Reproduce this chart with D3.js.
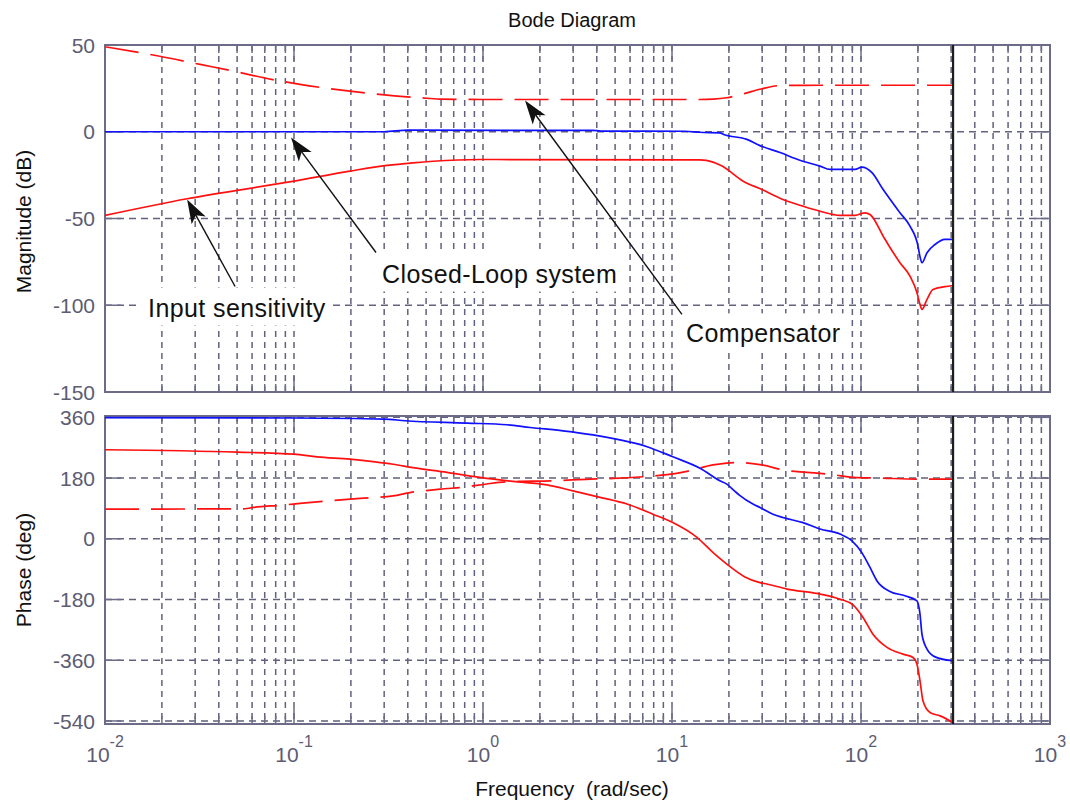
<!DOCTYPE html>
<html>
<head>
<meta charset="utf-8">
<script src="https://cdn.jsdelivr.net/npm/d3@7"></script>
<style>
  body { margin: 0; background: #ffffff; }
  svg { display: block; }
  text { font-family: "Liberation Sans", Arial, sans-serif; }
</style>
</head>
<body>
<svg id="chart" width="1070" height="805"></svg>
<script>
// ---- axis ticks ----
const freqDecades = [1e-2, 1e-1, 1e0, 1e1, 1e2, 1e3];
const freqExponents = ["-2", "-1", "0", "1", "2", "3"];
const magTicks = [50, 0, -50, -100, -150];
const phaseTicks = [360, 180, 0, -180, -360, -540];
const nyquistFreq = 307;

// ---- magnitude (dB) ----
const compMagW  = [0.01, 0.0195, 0.0319, 0.0476, 0.072, 0.1076, 0.1977, 0.3105, 0.4645, 0.59, 1.0, 5.0, 14, 16.5, 19.5, 24, 29.9, 38.2, 60, 307];
const compMagDb = [49, 43.5, 38.8, 35, 30.7, 27.3, 23.4, 21.1, 19.6, 18.8, 18.6, 18.6, 18.6, 18.8, 19.6, 22, 24.8, 26.7, 26.8, 26.8];

const clMagW  = [0.01, 0.3, 0.4, 3.8, 4.2, 11.7, 14, 17.9, 18.8, 24.9, 29.2, 37.3, 47.5, 60.7, 68.5, 93, 101, 114.3, 130.7, 160.7, 181.6, 200.3, 205.2, 210.2, 223.5, 246.4, 278, 307];
const clMagDb = [0, 0, 0.9, 0.8, 0.4, 0.3, -0.3, -0.6, -1.6, -4.4, -8, -12, -16.4, -19.8, -21.7, -21.7, -20.4, -23.6, -33.2, -46.7, -54.4, -65.9, -72, -75.5, -69.7, -65, -62, -62];

const sensMagW  = [0.01, 0.0272, 0.1, 0.1977, 0.3105, 0.4266, 0.5436, 0.964, 14, 16.5, 18.4, 23.8, 29.9, 38.6, 49.3, 60.7, 77.4, 93, 105, 111.6, 133.9, 160.7, 181.6, 197.8, 205.2, 210.2, 223.5, 240.4, 278, 307];
const sensMagDb = [-48.2, -38.6, -28.5, -22.7, -19.4, -17.9, -17, -16, -16.2, -17.5, -19.8, -28.5, -33.3, -39, -42.9, -45.8, -48.2, -48.2, -46.7, -47.7, -62, -75.5, -83.2, -92.8, -99.5, -102.4, -96.6, -90.9, -89.3, -88.6];

// ---- phase (deg) ----
const compPhW   = [0.01, 0.0551, 0.0607, 0.0875, 0.1076, 0.1549, 0.2236, 0.334, 0.411, 0.5916, 0.8226, 1.089, 1.442, 2.346, 3.68, 4.88, 7.03, 9.41, 12.0, 16.5, 22.1, 29.2, 40.6, 51.8, 71.1, 90.7, 126, 205, 307];
const compPhDeg = [88, 89, 93, 100, 105, 113, 120, 127, 137, 147, 154, 164, 170, 172, 177, 179, 184, 190, 200, 219, 226, 220, 202, 197, 190, 182, 180, 177, 177];

const clPhW   = [0.01, 0.1, 0.3, 0.3866, 0.8226, 1.34, 1.774, 2.65, 3.82, 5.31, 7.38, 10.1, 14.07, 17.9, 19.5, 21.4, 22.9, 26.8, 29.2, 34.2, 38.6, 49.3, 60.7, 77.4, 89.6, 101, 111.6, 121.5, 142.3, 170.9, 197.8, 205.2, 210.2, 223.5, 246.4, 307];
const clPhDeg = [359, 358, 355, 350, 343, 338, 330, 320, 308, 293, 273, 243, 209, 172, 162, 142, 128, 103, 93, 73, 63, 48, 29, 14, -6, -41, -85, -125, -156, -169, -184, -223, -283, -327, -350, -362];

const sensPhW   = [0.01, 0.05, 0.1, 0.1324, 0.1977, 0.2685, 0.334, 0.4266, 0.6449, 0.964, 1.442, 2.183, 2.99, 4.16, 5.78, 7.93, 10.1, 13.55, 16.5, 19.5, 24.3, 29.2, 31.8, 40.6, 58.5, 77.4, 90.7, 102.5, 115.7, 137.3, 166.7, 188.5, 197.8, 205.2, 212.9, 231.8, 261.9, 307];
const sensPhDeg = [264, 257, 251, 243, 236, 228, 221, 211, 197, 182, 170, 160, 142, 123, 103, 73, 48, 4, -41, -75, -113, -130, -134, -149, -162, -179, -196, -233, -283, -322, -342, -352, -372, -421, -481, -515, -525, -545];

// ---- annotations (placed in frequency / dB coordinates of the magnitude plot) ----
const noteLabels = ["Compensator", "Closed-Loop system", "Input sensitivity"];
const noteTipW   = [1.668, 0.0964, 0.0272];
const noteTipDb  = [18.0, -3.3, -39.0];
const noteTailW  = [11.29, 0.2716, 0.0488];
const noteTailDb = [-105.3, -69.6, -89.2];
const noteTextW  = [11.86, 0.2924, 0.0169];
const noteTextDb = [-121.4, -86.9, -106.5];

// ---- layout ----
const svg = d3.select("#chart");
const left = 105, right = 1050;
const magTop = 45, magBottom = 392;
const phTop = 416, phBottom = 724;
const axisColor = "#6c6c88";
const gridColor = "#62627e";
const tickTextColor = "#5c5c72";
const red = "#ff1010", blue = "#1010ff";

const x = d3.scaleLog().domain([1e-2, 1e3]).range([left, right]);
const yMag = d3.scaleLinear().domain([-150, 50]).range([magBottom, magTop]);
const yPh = d3.scaleLinear().domain([-549, 364]).range([phBottom, phTop]);

// all grid frequencies: 1..9 x 10^k
const gridFreqs = [];
for (let k = -2; k <= 2; k++) for (let m = 1; m <= 9; m++) gridFreqs.push(m * Math.pow(10, k));
gridFreqs.push(1000);

function drawPanel(y, ticks, top, bottom, clipId) {
  const g = svg.append("g");
  svg.append("clipPath").attr("id", clipId)
    .append("rect").attr("x", left).attr("y", top).attr("width", right - left).attr("height", bottom - top);

  // vertical dashed grid
  g.selectAll("line.vg").data(gridFreqs).join("line")
    .attr("x1", d => x(d)).attr("x2", d => x(d))
    .attr("y1", top).attr("y2", bottom)
    .attr("stroke", gridColor).attr("stroke-width", 1.5)
    .attr("stroke-dasharray", "6,5");
  // horizontal dashed grid
  g.selectAll("line.hg").data(ticks).join("line")
    .attr("x1", left).attr("x2", right)
    .attr("y1", d => y(d)).attr("y2", d => y(d))
    .attr("stroke", gridColor).attr("stroke-width", 1.5)
    .attr("stroke-dasharray", "7,5");

  // inner tick marks
  const isDecade = d => Math.abs(Math.log10(d) - Math.round(Math.log10(d))) < 1e-9;
  g.selectAll("line.tb").data(gridFreqs).join("line")
    .attr("x1", d => x(d)).attr("x2", d => x(d))
    .attr("y1", bottom).attr("y2", d => bottom - (isDecade(d) ? 16 : 8))
    .attr("stroke", axisColor).attr("stroke-width", 1.5);
  g.selectAll("line.tt").data(gridFreqs).join("line")
    .attr("x1", d => x(d)).attr("x2", d => x(d))
    .attr("y1", top).attr("y2", d => top + (isDecade(d) ? 16 : 8))
    .attr("stroke", axisColor).attr("stroke-width", 1.5);
  g.selectAll("line.tl").data(ticks).join("line")
    .attr("x1", left).attr("x2", left + 16)
    .attr("y1", d => y(d)).attr("y2", d => y(d))
    .attr("stroke", axisColor).attr("stroke-width", 1.5);
  g.selectAll("line.tr").data(ticks).join("line")
    .attr("x1", right).attr("x2", right - 16)
    .attr("y1", d => y(d)).attr("y2", d => y(d))
    .attr("stroke", axisColor).attr("stroke-width", 1.5);

  // y tick labels
  g.selectAll("text.yl").data(ticks).join("text")
    .attr("x", left - 10).attr("y", d => y(d)).attr("dy", "0.36em")
    .attr("text-anchor", "end").attr("font-size", 21)
    .attr("fill", tickTextColor).text(d => d);

  // frame
  g.append("rect").attr("x", left).attr("y", top)
    .attr("width", right - left).attr("height", bottom - top)
    .attr("fill", "none").attr("stroke", axisColor).attr("stroke-width", 2);
  return g;
}

const magPanel = drawPanel(yMag, magTicks, magTop, magBottom, "clipMag");
const phPanel = drawPanel(yPh, phaseTicks, phTop, phBottom, "clipPh");

function curve(g, y, ws, vs, color, dash, clipId) {
  const pts = ws.map((w, i) => [w, vs[i]]);
  g.append("path").datum(pts)
    .attr("clip-path", `url(#${clipId})`)
    .attr("d", d3.line().x(d => x(d[0])).y(d => y(d[1])).curve(d3.curveMonotoneX))
    .attr("fill", "none").attr("stroke", color).attr("stroke-width", 1.7)
    .attr("stroke-dasharray", dash || null);
}

curve(magPanel, yMag, compMagW, compMagDb, red, "34,12", "clipMag");
curve(magPanel, yMag, clMagW, clMagDb, blue, null, "clipMag");
curve(magPanel, yMag, sensMagW, sensMagDb, red, null, "clipMag");

curve(phPanel, yPh, compPhW, compPhDeg, red, "34,12", "clipPh");
curve(phPanel, yPh, clPhW, clPhDeg, blue, null, "clipPh");
curve(phPanel, yPh, sensPhW, sensPhDeg, red, null, "clipPh");

// Nyquist frequency marker
[[magTop, magBottom], [phTop, phBottom]].forEach(([t, b]) => {
  svg.append("line").attr("x1", x(nyquistFreq)).attr("x2", x(nyquistFreq))
    .attr("y1", t).attr("y2", b).attr("stroke", "#1e1e1e").attr("stroke-width", 2.2);
});

// x tick labels (10^k)
const xl = svg.append("g");
freqDecades.forEach((d, i) => {
  const t = xl.append("text").attr("x", x(d)).attr("y", 762)
    .attr("text-anchor", "middle").attr("fill", tickTextColor).attr("font-size", 21);
  t.append("tspan").text("10");
  t.append("tspan").attr("font-size", 16).attr("dy", -15).text(freqExponents[i]);
});

// titles
svg.append("text").attr("x", 572).attr("y", 27).attr("text-anchor", "middle")
  .attr("font-size", 20).attr("fill", "#111").text("Bode Diagram");
svg.append("text").attr("x", 572).attr("y", 796).attr("text-anchor", "middle")
  .attr("font-size", 21).attr("fill", "#111").attr("xml:space", "preserve")
  .text("Frequency  (rad/sec)");
svg.append("text").attr("transform", `translate(31,${(magTop + magBottom) / 2 + 3}) rotate(-90)`)
  .attr("text-anchor", "middle").attr("font-size", 21).attr("fill", "#111").text("Magnitude (dB)");
svg.append("text").attr("transform", `translate(31,${(phTop + phBottom) / 2}) rotate(-90)`)
  .attr("text-anchor", "middle").attr("font-size", 21).attr("fill", "#111").text("Phase (deg)");

// annotations: white-backed labels with arrows
const notes = svg.append("g");
noteLabels.forEach((label, i) => {
  const tx = x(noteTextW[i]), ty = yMag(noteTextDb[i]);
  const box = notes.append("rect").attr("fill", "#ffffff");
  const txt = notes.append("text").attr("x", tx).attr("y", ty)
    .attr("font-size", 25).attr("letter-spacing", 0.4).attr("fill", "#111").text(label);
  const bb = txt.node().getBBox();
  box.attr("x", bb.x - 7).attr("y", bb.y - 6).attr("width", bb.width + 14).attr("height", bb.height + 10);
});
noteLabels.forEach((label, i) => {
  const x1 = x(noteTailW[i]), y1 = yMag(noteTailDb[i]);
  const x2 = x(noteTipW[i]), y2 = yMag(noteTipDb[i]);
  const dx = x2 - x1, dy = y2 - y1, len = Math.hypot(dx, dy);
  const ux = dx / len, uy = dy / len, nx = -uy, ny = ux;
  const L = 24, W = 8, notch = 6;
  notes.append("line").attr("x1", x1).attr("y1", y1)
    .attr("x2", x2 - ux * (L - notch)).attr("y2", y2 - uy * (L - notch))
    .attr("stroke", "#111").attr("stroke-width", 1.4);
  const head = [
    [x2, y2],
    [x2 - ux * L + nx * W, y2 - uy * L + ny * W],
    [x2 - ux * (L - notch), y2 - uy * (L - notch)],
    [x2 - ux * L - nx * W, y2 - uy * L - ny * W]
  ];
  notes.append("path").attr("d", "M" + head.map(p => p.join(",")).join("L") + "Z").attr("fill", "#111");
});
</script>
</body>
</html>
